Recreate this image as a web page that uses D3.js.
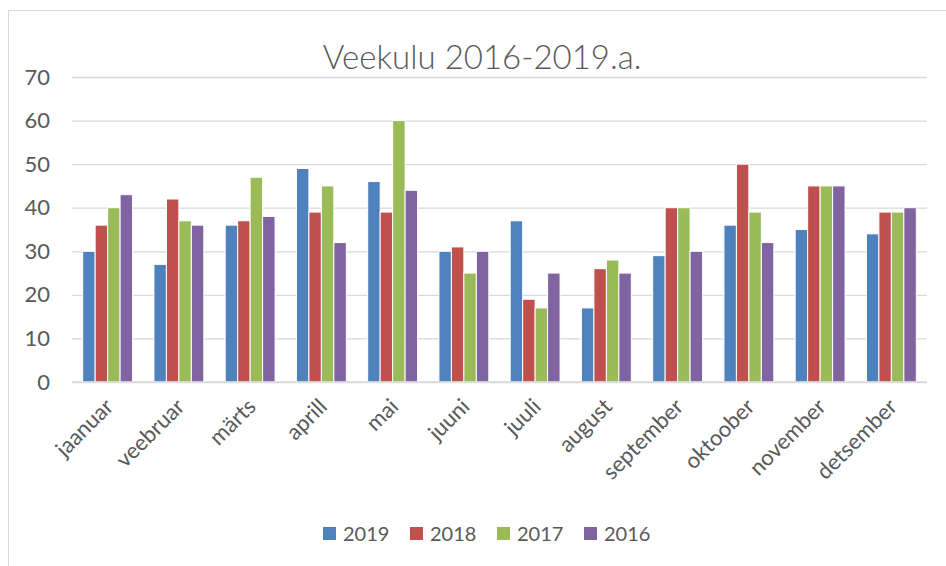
<!DOCTYPE html>
<html>
<head>
<meta charset="utf-8">
<script src="https://cdn.jsdelivr.net/npm/d3@7"></script>
<style>
  body { margin: 0; background: #fff; }
  text { font-family: Lato, "Open Sans", sans-serif; fill: #595959; }
</style>
</head>
<body>
<div id="chart-area"></div>
<script>
/* Data */
const months = ['jaanuar', 'veebruar', 'märts', 'aprill', 'mai', 'juuni',
                'juuli', 'august', 'september', 'oktoober', 'november', 'detsember'];
const years  = ['2019', '2018', '2017', '2016'];
const v2019 = [30, 27, 36, 49, 46, 30, 37, 17, 29, 36, 35, 34];
const v2018 = [36, 42, 37, 39, 39, 31, 19, 26, 40, 50, 45, 39];
const v2017 = [40, 37, 47, 45, 60, 25, 17, 28, 40, 39, 45, 39];
const v2016 = [43, 36, 38, 32, 44, 30, 25, 25, 30, 32, 45, 40];
const yTicks = [0, 10, 20, 30, 40, 50, 60, 70];
const colors = ['#4F81BD', '#C0504D', '#9BBB59', '#8064A2'];

const series = [v2019, v2018, v2017, v2016];
const data = months.map((m, i) => ({
    month: m,
    values: years.map((y, j) => ({ year: y, value: series[j][i] }))
}));

/* SVG */
const W = 946, H = 566;
const margin = { left: 72, right: 19, top: 77, bottom: 184 };
const width  = W - margin.left - margin.right;
const height = H - margin.top - margin.bottom;

const svg = d3.select('#chart-area')
    .append('svg')
    .attr('width', W)
    .attr('height', H);

// outer frame
svg.append('rect')
    .attr('x', 8.5).attr('y', 10.5)
    .attr('width', W + 20).attr('height', H + 20)
    .attr('fill', 'none')
    .attr('stroke', '#d9d9d9');

svg.append('text')
    .attr('x', 482).attr('y', 69)
    .attr('text-anchor', 'middle')
    .attr('font-size', '33px')
    .attr('font-weight', 300)
    .text('Veekulu 2016-2019.a.');

const g = svg.append('g')
    .attr('transform', `translate(${margin.left}, ${margin.top})`);

/* Scales */
const x0 = d3.scaleBand().domain(months).range([0, width]).paddingInner(0.3).paddingOuter(0.15);
const x1 = d3.scaleBand().domain(years).range([0, x0.bandwidth()]);
const y  = d3.scaleLinear().domain([0, 70]).range([height, 0]);

/* Grid + y axis */
const yAxis = g.append('g')
    .call(d3.axisLeft(y).tickValues(yTicks).tickSize(-width).tickPadding(22));
yAxis.select('.domain').remove();
yAxis.selectAll('line').attr('stroke', '#d9d9d9').attr('stroke-width', 1.3);
yAxis.selectAll('text').attr('font-size', '22px').attr('fill', '#595959');

/* Bars */
const groups = g.selectAll('.grp')
    .data(data)
    .enter().append('g')
    .attr('class', 'grp')
    .attr('transform', d => `translate(${x0(d.month)},0)`);

groups.selectAll('rect')
    .data(d => d.values)
    .enter().append('rect')
    .attr('x', d => x1(d.year))
    .attr('y', d => y(d.value))
    .attr('width', x1.bandwidth())
    .attr('height', d => y(0) - y(d.value))
    .attr('fill', (d, i) => colors[i])
    .attr('stroke', '#fff')
    .attr('stroke-width', 1);

/* x axis line */
g.append('line')
    .attr('x1', 0).attr('x2', width)
    .attr('y1', y(0)).attr('y2', y(0))
    .attr('stroke', '#d9d9d9').attr('stroke-width', 1.3);

/* x labels */
const xc = d3.scalePoint().domain(months).range([0, width]).padding(0.5);
g.selectAll('.xlab')
    .data(months)
    .enter().append('text')
    .attr('class', 'xlab')
    .attr('font-size', '22px')
    .attr('text-anchor', 'end')
    .attr('transform', d => `translate(${xc(d) + 7},${height + 26}) rotate(-45)`)
    .text(d => d);

/* Legend */
const legend = svg.append('g')
    .attr('transform', 'translate(323, 527)');

const item = legend.selectAll('.leg')
    .data(years)
    .enter().append('g')
    .attr('class', 'leg')
    .attr('transform', (d, i) => `translate(${i * 87}, 0)`);

item.append('rect')
    .attr('width', 13).attr('height', 13)
    .attr('fill', (d, i) => colors[i]);

item.append('text')
    .attr('x', 20).attr('y', 14)
    .attr('font-size', '20px')
    .text(d => d);
</script>
</body>
</html>
